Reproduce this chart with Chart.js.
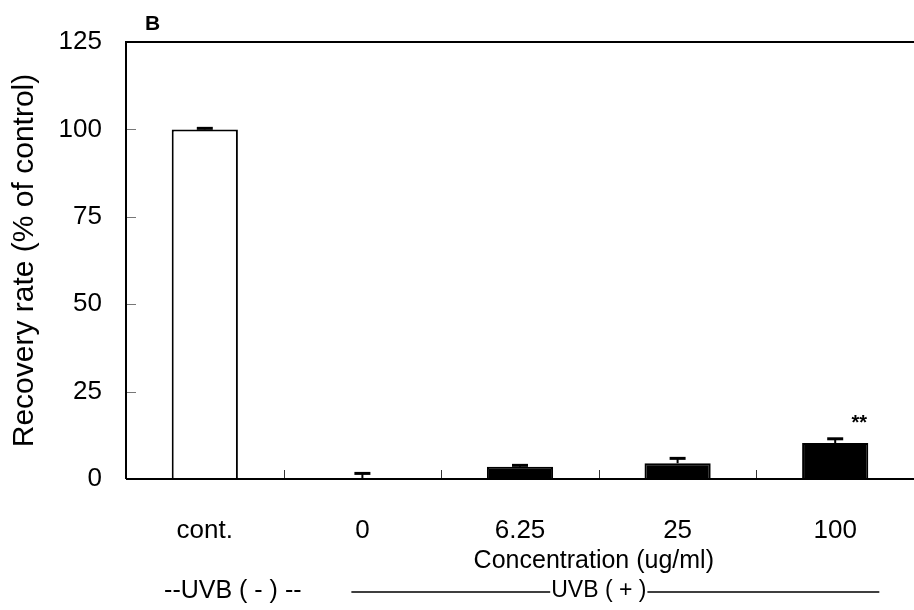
<!DOCTYPE html>
<html>
<head>
<meta charset="utf-8">
<script src="https://cdn.jsdelivr.net/npm/chart.js@4.4.0/dist/chart.umd.min.js"></script>
<style>
html,body{margin:0;padding:0;background:#fff;}
#wrap{width:914px;height:610px;position:relative;}
</style>
</head>
<body>
<div id="wrap"><canvas id="c" width="914" height="610"></canvas></div>
<script>
const categories = ["cont.", "0", "6.25", "25", "100"];
const recovery = [100, 0.2, 3.5, 4.5, 10.3];
const errors = [0.3, 1.4, 0.4, 1.4, 1.2];
const significance = ["", "", "", "", "**"];
const barColors = ["#ffffff", "#000000", "#000000", "#000000", "#000000"];
const yTicks = [0, 25, 50, 75, 100, 125];
const panelLabel = "B";
const xTitle = "Concentration (ug/ml)";
const yTitle = "Recovery rate (% of control)";
const uvbMinus = "--UVB ( - ) --";
const uvbPlus = "UVB ( + )";

const FONT = "'Liberation Sans', Arial, sans-serif";

const decorPlugin = {
  id: 'decor',
  afterDatasetsDraw(chart) {
    const ctx = chart.ctx;
    const xs = chart.scales.x, ys = chart.scales.y;
    const area = chart.chartArea;
    const meta = chart.getDatasetMeta(0);
    ctx.save();
    // error bars (upper only)
    ctx.strokeStyle = '#000';
    meta.data.forEach((bar, i) => {
      const v = recovery[i], e = errors[i];
      const x = bar.x;
      const yTop = ys.getPixelForValue(v);
      const yErr = ys.getPixelForValue(v + e);
      ctx.lineWidth = 2;
      ctx.beginPath();
      ctx.moveTo(x, yTop); ctx.lineTo(x, yErr);
      ctx.stroke();
      ctx.lineWidth = 3;
      ctx.beginPath();
      ctx.moveTo(x - 8, yErr); ctx.lineTo(x + 8, yErr);
      ctx.stroke();
      if (significance[i]) {
        ctx.fillStyle = '#000';
        ctx.font = "bold 20px " + FONT;
        ctx.textAlign = 'center';
        ctx.textBaseline = 'middle';
        ctx.fillText(significance[i], x + 24, yErr - 15);
      }
    });
    // y ticks pointing inward
    ctx.strokeStyle = '#777';
    ctx.lineWidth = 1;
    yTicks.forEach(t => {
      const y = Math.round(ys.getPixelForValue(t)) + 0.5;
      ctx.beginPath();
      ctx.moveTo(area.left, y); ctx.lineTo(area.left + 10, y);
      ctx.stroke();
    });
    // x category boundary ticks pointing up
    ctx.strokeStyle = '#333';
    for (let i = 1; i < categories.length; i++) {
      const x = Math.round((xs.getPixelForValue(i - 1) + xs.getPixelForValue(i)) / 2) + 0.5;
      ctx.beginPath();
      ctx.moveTo(x, area.bottom); ctx.lineTo(x, area.bottom - 9);
      ctx.stroke();
    }
    // frame: left axis, top border, baseline
    ctx.strokeStyle = '#000';
    ctx.lineWidth = 2;
    ctx.beginPath();
    ctx.moveTo(area.left, area.bottom);
    ctx.lineTo(area.left, area.top);
    ctx.lineTo(chart.width, area.top);
    ctx.stroke();
    ctx.beginPath();
    ctx.moveTo(area.left, ys.getPixelForValue(0));
    ctx.lineTo(chart.width, ys.getPixelForValue(0));
    ctx.stroke();
    // panel label
    ctx.fillStyle = '#000';
    ctx.font = "bold 21px " + FONT;
    ctx.textAlign = 'left';
    ctx.textBaseline = 'alphabetic';
    ctx.fillText(panelLabel, area.left + 19, area.top - 12);
    // x axis title
    const c2 = xs.getPixelForValue(2), c3 = xs.getPixelForValue(3);
    ctx.font = "25px " + FONT;
    ctx.textAlign = 'center';
    ctx.textBaseline = 'middle';
    ctx.fillText(xTitle, (c2 + c3) / 2 - 5, area.bottom + 82);
    // UVB annotations
    const yU = area.bottom + 112;
    ctx.font = "25px " + FONT;
    ctx.fillText(uvbMinus, xs.getPixelForValue(0) + 28, yU);
    const c1 = xs.getPixelForValue(1), c4 = xs.getPixelForValue(4);
    const step = c1 - xs.getPixelForValue(0);
    const lx0 = c1 - step * 0.07, lx1 = c4 + step * 0.28;
    const tx = (c1 + c4) / 2;
    ctx.font = "23px " + FONT;
    const tw = ctx.measureText(uvbPlus).width;
    ctx.fillText(uvbPlus, tx, yU);
    ctx.lineWidth = 1.4;
    ctx.beginPath();
    ctx.moveTo(lx0, yU + 1); ctx.lineTo(tx - tw / 2 - 1, yU + 1);
    ctx.moveTo(tx + tw / 2 + 1, yU + 1); ctx.lineTo(lx1, yU + 1);
    ctx.stroke();
    ctx.restore();
  }
};

new Chart(document.getElementById('c'), {
  type: 'bar',
  data: {
    labels: categories,
    datasets: [{
      data: recovery,
      backgroundColor: barColors,
      borderColor: '#000',
      borderWidth: 2,
      borderSkipped: 'bottom',
      barPercentage: 0.84,
      categoryPercentage: 0.5
    }]
  },
  options: {
    responsive: false,
    animation: false,
    devicePixelRatio: 1,
    layout: { padding: { left: 0, top: 42, right: 0, bottom: 0 } },
    plugins: { legend: { display: false }, tooltip: { enabled: false } },
    scales: {
      x: {
        afterFit(scale) { scale.height = 131; },
        grid: { display: false, drawTicks: false },
        border: { display: false },
        ticks: { color: '#000', font: { family: FONT, size: 26 }, padding: 36 }
      },
      y: {
        min: 0, max: 125,
        afterFit(scale) { scale.width = 126; },
        afterBuildTicks(scale) { scale.ticks = yTicks.map(v => ({ value: v })); },
        grid: { display: false, drawTicks: false },
        border: { display: false },
        ticks: { color: '#000', font: { family: FONT, size: 26 }, padding: 24 },
        title: { display: true, text: yTitle, color: '#000', font: { family: FONT, size: 30 }, padding: { top: 7, bottom: 0 } }
      }
    }
  },
  plugins: [decorPlugin]
});
</script>
</body>
</html>
